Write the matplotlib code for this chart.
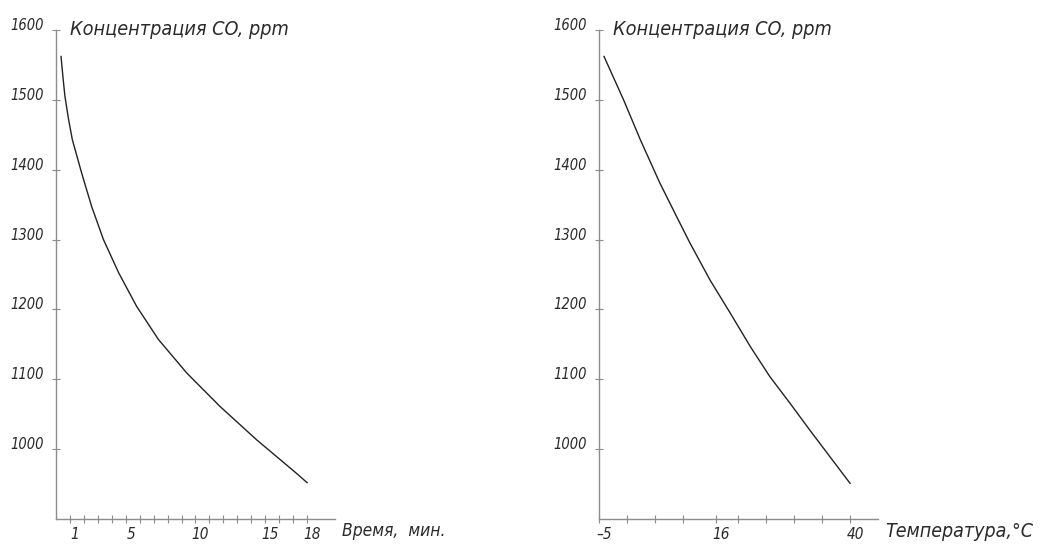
import matplotlib.pyplot as plt
import matplotlib.transforms as mtransforms

# Left chart: CO concentration vs time
time_min = [0.36, 0.52, 0.64, 0.9, 1.17, 1.84, 2.56, 3.4, 4.5, 5.79, 7.34, 9.37, 11.76, 14.4, 17.2, 18.0]
co_time = [1562, 1528, 1505, 1472, 1443, 1395, 1347, 1300, 1252, 1204, 1157, 1109, 1061, 1013, 966, 952]
time_labels = [1, 5, 10, 15, 18]

# Right chart: CO concentration vs temperature
temp_c = [-4.1, -0.6, 2.4, 5.9, 8.9, 11.3, 14.9, 18.5, 22.1, 25.6, 29.2, 32.8, 36.4, 40.0]
co_temp = [1562, 1500, 1443, 1381, 1333, 1295, 1242, 1195, 1147, 1104, 1066, 1027, 989, 951]
temp_labels = [-5, 16, 40]
temp_minor = [0, 5, 10, 20, 25, 30, 35]

y_ticks = [1000, 1100, 1200, 1300, 1400, 1500, 1600]
y_title = 'Концентрация CO, ppm'

text_col = '#2a2a2a'
axis_col = '#8c8c8c'
font = dict(family='DejaVu Sans', style='italic', stretch='condensed')

fig = plt.figure(figsize=(10.41, 5.44), dpi=100)
ax1 = fig.add_axes([0.0538, 0.046, 0.268, 0.899])
ax2 = fig.add_axes([0.5754, 0.046, 0.268, 0.899])


def style_axes(ax, xlabel, xsize):
    for s in ['top', 'right']:
        ax.spines[s].set_visible(False)
    for s in ['left', 'bottom']:
        ax.spines[s].set_color(axis_col)
        ax.spines[s].set_linewidth(1.0)
    ax.set_ylim(900, 1600)
    ax.set_yticks(y_ticks)
    ax.set_yticklabels([str(v) for v in y_ticks], fontsize=10.5, color=text_col, **font)
    for lab in ax.get_yticklabels():
        lab.set_va('baseline')
    ax.tick_params(which='both', direction='inout', length=6, width=0.8, color=axis_col)
    ax.tick_params(axis='y', pad=6)
    ax.tick_params(axis='x', pad=3)
    ax.annotate(y_title, xy=(0, 1600), xycoords=('axes fraction', 'data'),
                xytext=(10, 0), textcoords='offset points', va='center', ha='left',
                fontsize=14.2, color=text_col, **font)
    ax.annotate(xlabel, xy=(1, 0), xycoords='axes fraction',
                xytext=(5, -9), textcoords='offset points', va='center', ha='left',
                fontsize=xsize, color=text_col, **font)


ax1.plot(time_min, co_time, color='#222222', lw=1.0)
ax1.set_xlim(0, 20)
ax1.set_xticks(time_labels)
ax1.set_xticklabels([str(v) for v in time_labels], fontsize=11, color=text_col, **font)
ax1.set_xticks([v for v in range(1, 19) if v not in time_labels], minor=True)
style_axes(ax1, 'Время,  мин.', 12.5)

ax2.plot(temp_c, co_temp, color='#222222', lw=1.0)
ax2.set_xlim(-5, 45)
ax2.set_xticks(temp_labels)
ax2.set_xticklabels(['\u20135', '16', '40'], fontsize=11, color=text_col, **font)
ax2.set_xticks(temp_minor, minor=True)
style_axes(ax2, 'Температура,\u00b0C', 14)

# italic labels sit a little right of their ticks
fig.canvas.draw()
shift = mtransforms.ScaledTranslation(0.05, 0, fig.dpi_scale_trans)
for ax in (ax1, ax2):
    for lab in ax.xaxis.get_majorticklabels():
        lab.set_transform(lab.get_transform() + shift)

fig.savefig('out.png', dpi=100)
